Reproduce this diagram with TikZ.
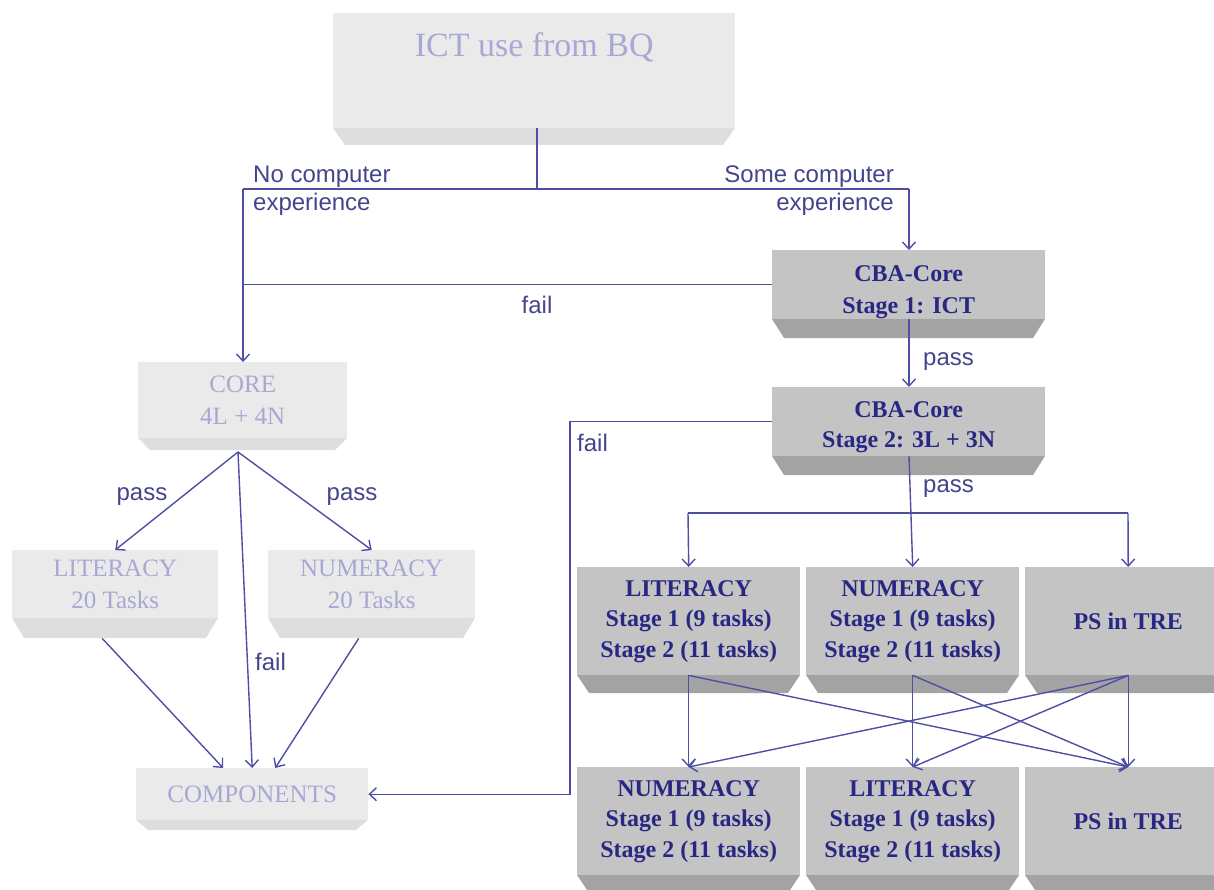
\documentclass[tikz,border=0pt]{standalone}
\usepackage{fontspec}
\setmainfont{Liberation Serif}
\newfontfamily\lblfont{Liberation Sans}
\usetikzlibrary{arrows.meta,calc}
\definecolor{boxgray}{RGB}{196,196,196}
\definecolor{bevgray}{RGB}{163,163,163}
\definecolor{boxtext}{RGB}{40,40,132}
\definecolor{lineblue}{RGB}{78,78,165}
\definecolor{lbltext}{RGB}{68,68,140}
\definecolor{fadefill}{RGB}{234,234,234}
\definecolor{fadebev}{RGB}{222,222,222}
\definecolor{fadetext}{RGB}{168,168,212}
\newcommand\bevbox[9]{%
  \fill[#8] (#2,#5) -- (#4,#5) -- (#4-12,#6) -- (#2+12,#6) -- cycle;
  \pgfmathsetmacro\bw{#4-#2}\pgfmathsetmacro\bh{#5-#3}%
  \node[#7, minimum width=\bw pt, minimum height=\bh pt, anchor=north west] (#1) at (#2,#3) {#9};}
\begin{document}
\begin{tikzpicture}[x=1pt,y=-1pt,
  line/.style={draw=lineblue, line width=1.4pt},
  arr/.style={line, -{Straight Barb[length=7pt,width=13pt]}},
  lbl/.style={text=lbltext, font=\lblfont\fontsize{24}{28}\selectfont, inner sep=0pt},
  solidbox/.style={fill=boxgray, inner sep=0pt, align=center, text=boxtext, font=\bfseries\fontsize{24}{30.5}\selectfont},
  solidbev/.style={fill=bevgray},
  fadebox/.style={fill=fadefill, inner sep=0pt, align=center, text=fadetext, font=\fontsize{25}{32}\selectfont},
  fadebv/.style={fill=fadebev}]
\useasboundingbox (0,0) rectangle (1214,890);
% boxes
\bevbox{ict}{333}{13}{735}{128}{145}{fadebox,font=\fontsize{34}{38}\selectfont}{fadebv}{\raisebox{14pt}[0pt][0pt]{ICT use from BQ}}
\bevbox{cba1}{772}{250}{1045}{319}{338}{solidbox}{solidbev}{\raisebox{-13pt}[0pt][0pt]{\begin{tabular}{@{}c@{}}CBA-Core\\[2pt]Stage 1: ICT\end{tabular}}}
\bevbox{cba2}{772}{387}{1045}{456}{475}{solidbox}{solidbev}{\raisebox{-11pt}[0pt][0pt]{\begin{tabular}{@{}c@{}}CBA-Core\\Stage 2: 3L + 3N\end{tabular}}}
\bevbox{core}{138}{362}{347}{438}{450}{fadebox}{fadebv}{CORE\\4L + 4N}
\bevbox{lit20}{12}{550}{218}{618}{638}{fadebox}{fadebv}{LITERACY\\20 Tasks}
\bevbox{num20}{268}{550}{475}{618}{638}{fadebox}{fadebv}{NUMERACY\\20 Tasks}
\bevbox{comp}{136}{768}{368}{820}{830}{fadebox}{fadebv}{COMPONENTS}
\bevbox{lit1}{577}{567}{800}{675}{693}{solidbox}{solidbev}{LITERACY\\Stage 1 (9 tasks)\\Stage 2 (11 tasks)}
\bevbox{num1}{806}{567}{1019}{675}{693}{solidbox}{solidbev}{NUMERACY\\Stage 1 (9 tasks)\\Stage 2 (11 tasks)}
\bevbox{ps1}{1025}{567}{1231}{675}{693}{solidbox}{solidbev}{PS in TRE}
\bevbox{num2}{577}{767}{800}{875}{893}{solidbox}{solidbev}{NUMERACY\\Stage 1 (9 tasks)\\Stage 2 (11 tasks)}
\bevbox{lit2}{806}{767}{1019}{875}{893}{solidbox}{solidbev}{LITERACY\\Stage 1 (9 tasks)\\Stage 2 (11 tasks)}
\bevbox{ps2}{1025}{767}{1231}{875}{893}{solidbox}{solidbev}{PS in TRE}
% junction points
\coordinate (j0) at (537,189);
\coordinate (jl) at (243,189);
\coordinate (jr) at (909,189);
\coordinate (pl) at (688,513);
\coordinate (pr) at (1128,513);
% top connectors
\draw[line] (ict.south -| j0) -- (j0);
\draw[line] (jl) -- (jr);
\draw[arr] (jr) -- (cba1.north -| jr);
\draw[arr] (jl) -- (core.north -| jl);
\draw[line] (cba1.west) -- (cba1.west -| jl);
\draw[arr] (cba1.south -| jr) -- (cba2.north -| jr);
\draw[arr] (cba2.west) -- ++(-202,0) |- (comp.east);
\draw[line] (pl) -- (pr);
\draw[arr] (pl) -- (lit1.north);
\draw[arr] (pr) -- (ps1.north);
\draw[arr] (cba2.south -| jr) -- (num1.north);
% crossing connectors
\draw[arr] (lit1.south) -- (num2.north);
\draw[arr] (lit1.south) -- (ps2.north);
\draw[arr] (num1.south) -- (lit2.north);
\draw[arr] (num1.south) -- (ps2.north);
\draw[arr] (ps1.south) -- (ps2.north);
\draw[arr] (ps1.south) -- (num2.north);
\draw[arr] (ps1.south) -- (lit2.north);
% left connectors
\coordinate (capex) at (238,452);
\draw[arr] (capex) -- (lit20.north);
\draw[arr] (capex) -- (num20.north);
\draw[arr] (capex) -- (comp.north);
\draw[arr] ([xshift=-13pt,yshift=-20pt]lit20.south) -- ([xshift=-29pt]comp.north);
\draw[arr] ([xshift=-13pt,yshift=-20pt]num20.south) -- ([xshift=23pt]comp.north);
% labels
\node[lbl, align=left, anchor=west] (lnc) at (253,191) {No computer\\experience};
\node[lbl, align=right, anchor=east] (lsc) at (894,191) {Some computer\\experience};
\node[lbl] (lf1) at (537,305) {fail};
\node[lbl, anchor=west] (lp1) at (923,362) {pass};
\node[lbl, anchor=west] (lf2) at (577,443) {fail};
\node[lbl, anchor=west] (lp2) at (923,489) {pass};
\node[lbl] (lp3) at (142,497) {pass};
\node[lbl] (lp4) at (352,497) {pass};
\node[lbl, anchor=west] (lf3) at (255,662) {fail};
\end{tikzpicture}
\end{document}
